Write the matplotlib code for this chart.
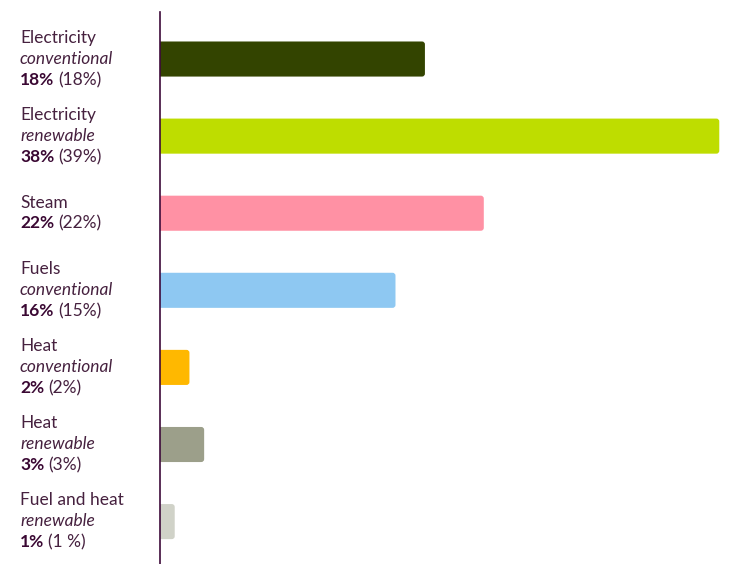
import matplotlib.pyplot as plt
from matplotlib.patches import FancyBboxPatch

plt.rcParams['font.family'] = ['Lato', 'DejaVu Sans']

# data
names = ['Electricity', 'Electricity', 'Steam', 'Fuels', 'Heat', 'Heat', 'Fuel and heat']
kinds = ['conventional', 'renewable', '', 'conventional', 'conventional', 'renewable', 'renewable']
shares = [18, 38, 22, 16, 2, 3, 1]
share_labels = ['18%', '38%', '22%', '16%', '2%', '3%', '1%']
prev_labels = ['(18%)', '(39%)', '(22%)', '(15%)', '(2%)', '(3%)', '(1 %)']
colors = ['#334400', '#bedd00', '#ff91a4', '#8ec8f2', '#ffb800', '#9c9f8a', '#d0d2c8']

txt_col = '#46213f'
bold_col = '#3a0833'

fig = plt.figure(figsize=(7.34, 5.64), dpi=100)
W, H = 734, 564
ax = fig.add_axes([160 / W, 0, 1 - 160 / W, 1 - 12 / H])

pos = list(range(len(shares)))
bars = ax.barh(pos, shares, height=0.455, color=colors)
ax.set_xlim(0, 39)
ax.set_ylim(6.55, -0.61)

# swap plain rectangles for ones with slightly rounded corners
r = 0.2
for b in bars:
    b.set_visible(False)
    x, y = b.get_x(), b.get_y()
    w, h = b.get_width(), b.get_height()
    ax.add_patch(FancyBboxPatch((x - r, y), w + r, h,
                                boxstyle=f'round,pad=0,rounding_size={r}',
                                mutation_aspect=0.19,
                                fc=b.get_facecolor(), ec='none', clip_on=True))

for s in ['top', 'right', 'bottom']:
    ax.spines[s].set_visible(False)
ax.spines['left'].set_color('#3d0a3a')
ax.spines['left'].set_linewidth(1.2)
ax.spines['left'].set_zorder(5)
ax.set_xticks([])
ax.set_yticks([])

# left labels, centred on each bar
line_h = 21 / H
x0 = 20 / W
fs = 12.5
for i in pos:
    yc = 1 - (59 + 77 * i) / H
    lines = [names[i]] + ([kinds[i]] if kinds[i] else [])
    n = len(lines) + 1
    top = yc + (n - 1) / 2 * line_h
    for j, ln in enumerate(lines):
        fig.text(x0, top - j * line_h, ln, fontsize=fs, color=txt_col,
                 style='italic' if j == 1 else 'normal', va='center', ha='left')
    yb = top - (n - 1) * line_h
    t = fig.text(x0, yb, share_labels[i], fontsize=fs, color=bold_col,
                 fontweight='bold', va='center', ha='left')
    ax.annotate(prev_labels[i], xy=(1, 0.5), xycoords=t,
                xytext=(3, 0), textcoords='offset points',
                va='center', ha='left', fontsize=fs, color=txt_col,
                annotation_clip=False)

plt.savefig('out.png', dpi=100)
